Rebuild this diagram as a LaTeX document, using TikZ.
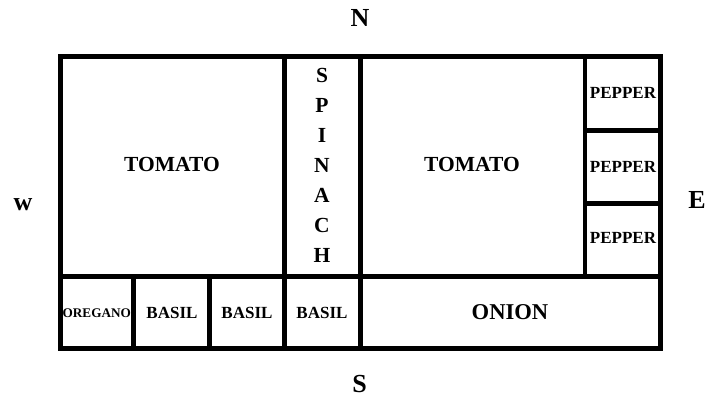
\documentclass[tikz,border=0pt]{standalone}
\usepackage{fontspec}
\setmainfont{Liberation Serif}
\begin{document}
\begin{tikzpicture}[x=1pt,y=-1pt,
  thick line/.style={line width=5pt,line cap=rect},
  thin line/.style={line width=3.5pt},
  big/.style={font=\fontsize{21.5}{30}\selectfont\bfseries,inner sep=0pt},
  onionfont/.style={font=\fontsize{22.6}{30}\selectfont\bfseries,inner sep=0pt},
  mid/.style={font=\fontsize{17}{22}\selectfont\bfseries,inner sep=0pt},
  small/.style={font=\fontsize{13.2}{16}\selectfont\bfseries,inner sep=0pt},
  compass/.style={font=\fontsize{26}{30}\selectfont\bfseries,inner sep=0pt}]
\useasboundingbox (0,0) rectangle (721,400);
% grid lines
\draw[thin line] (585,56) -- (585,276);
\draw[thick line] (585,130) -- (660,130);
\draw[thick line] (585,203) -- (660,203);
\draw[thick line] (60,276) -- (660,276);
\draw[thick line] (284,56) -- (284,348.5);
\draw[thick line] (360,56) -- (360,348.5);
\draw[thick line] (133.5,276) -- (133.5,348.5);
\draw[thick line] (209.5,276) -- (209.5,348.5);
\draw[thick line] (60,56) rectangle (660,348.5);
% labels
\node[big] (tomatoL) at (172,164) {TOMATO};
\node[big] (tomatoR) at (472,164) {TOMATO};
\node[big,align=center] (spinach) at (322,165) {S\\P\\I\\N\\A\\C\\H};
\node[mid] (pep1) at (623,93) {PEPPER};
\node[mid] (pep2) at (623,166.5) {PEPPER};
\node[mid] (pep3) at (623,238) {PEPPER};
\node[small] (oregano) at (96.75,313) {OREGANO};
\node[mid] (basil1) at (172,312.5) {BASIL};
\node[mid] (basil2) at (247,312.5) {BASIL};
\node[mid] (basil3) at (322,312.5) {BASIL};
\node[onionfont] (onion) at (510,312) {ONION};
\node[compass] (north) at (360,18) {N};
\node[compass] (south) at (359.5,384) {S};
\node[compass] (east) at (697,200) {E};
\node[compass] (west) at (23,205) {w};
\end{tikzpicture}
\end{document}
